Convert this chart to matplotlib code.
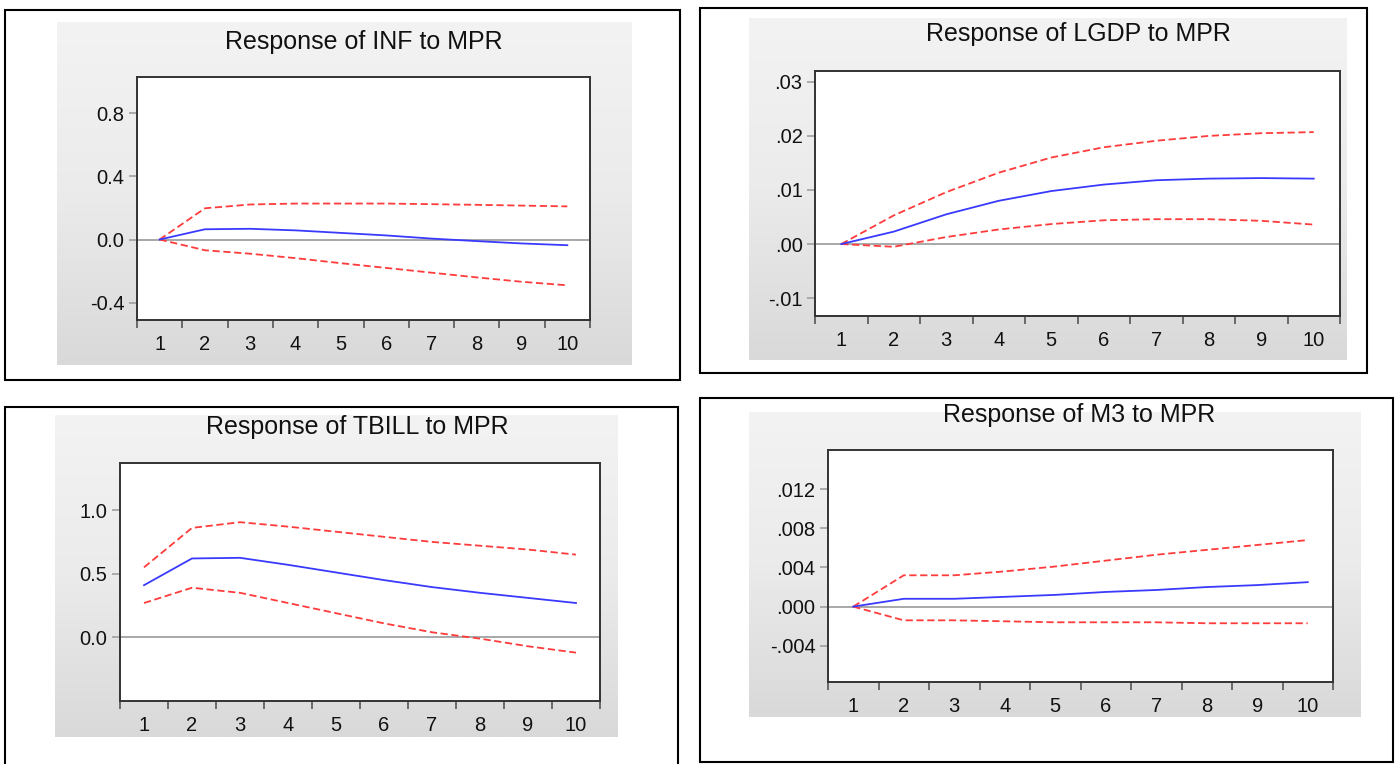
import numpy as np
import matplotlib
matplotlib.use("Agg")
import matplotlib.pyplot as plt
from matplotlib.patches import Rectangle
from matplotlib.colors import LinearSegmentedColormap
from matplotlib.ticker import FixedLocator, FuncFormatter

plt.rcParams['font.family'] = ['Liberation Sans', 'DejaVu Sans']

# impulse responses to an MPR shock, periods 1..10
periods = list(range(1, 11))

inf_resp = [0.0, 0.065, 0.068, 0.058, 0.042, 0.026, 0.006, -0.01, -0.025, -0.036]
inf_upper = [0.0, 0.198, 0.222, 0.228, 0.228, 0.228, 0.224, 0.22, 0.215, 0.21]
inf_lower = [0.0, -0.068, -0.09, -0.118, -0.15, -0.18, -0.21, -0.24, -0.268, -0.29]

lgdp_resp = [0.0, 0.0023, 0.0055, 0.0080, 0.0098, 0.0110, 0.0118, 0.0121, 0.0122, 0.0121]
lgdp_upper = [0.0, 0.0053, 0.0096, 0.0132, 0.0160, 0.0179, 0.0191, 0.0200, 0.0205, 0.0207]
lgdp_lower = [0.0, -0.0005, 0.0013, 0.0027, 0.0037, 0.0044, 0.0046, 0.0046, 0.0043, 0.0036]

tbill_resp = [0.41, 0.62, 0.625, 0.57, 0.51, 0.45, 0.395, 0.35, 0.31, 0.27]
tbill_upper = [0.55, 0.86, 0.905, 0.87, 0.83, 0.79, 0.75, 0.72, 0.69, 0.65]
tbill_lower = [0.27, 0.39, 0.35, 0.27, 0.19, 0.11, 0.04, -0.01, -0.07, -0.12]

m3_resp = [0.0, 0.0008, 0.0008, 0.0010, 0.0012, 0.0015, 0.0017, 0.0020, 0.0022, 0.0025]
m3_upper = [0.0, 0.0032, 0.0032, 0.0036, 0.0041, 0.0047, 0.0053, 0.0058, 0.0063, 0.0068]
m3_lower = [0.0, -0.0014, -0.0014, -0.0015, -0.0016, -0.0016, -0.0016, -0.0017, -0.0017, -0.0017]

titles = ['Response of INF to MPR', 'Response of LGDP to MPR',
          'Response of TBILL to MPR', 'Response of M3 to MPR']

W, H = 1400, 764
fig = plt.figure(figsize=(14, 7.64), dpi=100)


def box(x0, y0, x1, y1):
    # pixel box (top-left origin) -> figure fraction rect
    return [x0 / W, 1 - y1 / H, (x1 - x0) / W, (y1 - y0) / H]


def strip_zero(nd):
    def f(v, pos):
        s = f"{v:.{nd}f}"
        return s.replace('0.', '.', 1)
    return FuncFormatter(f)


panels = [
    # border, gray area, axes, title (x, y), data, ylim, yticks, formatter
    dict(border=(5, 10, 680, 380), bg=(57, 22, 632, 365), ax=(137, 77, 590, 320), title=(364, 42),
         data=(inf_resp, inf_upper, inf_lower), ylim=(-0.51, 1.03), yticks=[-0.4, 0.0, 0.4, 0.8],
         fmt=FuncFormatter(lambda v, p: f"{v:.1f}")),
    dict(border=(700, 8, 1367, 373), bg=(749, 18, 1347, 360), ax=(815, 71, 1340, 316), title=(1078, 34),
         data=(lgdp_resp, lgdp_upper, lgdp_lower), ylim=(-0.0133, 0.032), yticks=[-0.01, 0.0, 0.01, 0.02, 0.03],
         fmt=strip_zero(2)),
    dict(border=(5, 407, 678, 790), bg=(55, 415, 618, 737), ax=(120, 463, 600, 701), title=(357, 427),
         data=(tbill_resp, tbill_upper, tbill_lower), ylim=(-0.5, 1.37), yticks=[0.0, 0.5, 1.0],
         fmt=FuncFormatter(lambda v, p: f"{v:.1f}")),
    dict(border=(700, 398, 1393, 762), bg=(749, 412, 1361, 717), ax=(828, 450, 1333, 682), title=(1079, 415),
         data=(m3_resp, m3_upper, m3_lower), ylim=(-0.0077, 0.016), yticks=[-0.004, 0.0, 0.004, 0.008, 0.012],
         fmt=strip_zero(3)),
]

grad = np.linspace(0, 1, 256).reshape(-1, 1)
gray_cmap = LinearSegmentedColormap.from_list('bg', ['#f3f3f3', '#ebebeb', '#d9d9d9'])

for i, p in enumerate(panels):
    x0, y0, x1, y1 = p['border']
    fig.patches.append(Rectangle((x0 / W, 1 - y1 / H), (x1 - x0) / W, (y1 - y0) / H,
                                 transform=fig.transFigure, fill=False, edgecolor='black',
                                 linewidth=1.5, zorder=0))

    # gray gradient background behind the plot
    bg = fig.add_axes(box(*p['bg']), zorder=0)
    bg.imshow(grad, aspect='auto', cmap=gray_cmap, extent=[0, 1, 0, 1], origin='upper')
    bg.set_axis_off()

    tx, ty = p['title']
    fig.text(tx / W, 1 - ty / H, titles[i], ha='center', va='center', fontsize=18, color='#111111')

    ax = fig.add_axes(box(*p['ax']), zorder=1)
    ax.set_facecolor('white')
    resp, upper, lower = p['data']
    ax.axhline(0, color='#9a9a9a', linewidth=1.2, zorder=1)
    ax.plot(periods, upper, color='#ff3b3b', linestyle=(0, (4, 2)), linewidth=1.3, zorder=2)
    ax.plot(periods, lower, color='#ff3b3b', linestyle=(0, (4, 2)), linewidth=1.3, zorder=2)
    ax.plot(periods, resp, color='#3a3aff', linewidth=1.3, zorder=3)

    ax.set_xlim(0.5, 10.5)
    ax.set_ylim(*p['ylim'])
    ax.set_xticks(periods)
    ax.xaxis.set_minor_locator(FixedLocator(np.arange(0.5, 11, 1)))
    ax.tick_params(axis='x', which='major', length=0, pad=11, labelsize=14.5, labelcolor='#111111')
    ax.tick_params(axis='x', which='minor', length=6, width=1.2, color='#555555', direction='out')
    ax.set_yticks(p['yticks'])
    ax.yaxis.set_major_formatter(p['fmt'])
    ax.tick_params(axis='y', length=6, width=1.1, color='#999999', pad=3, labelsize=14.5,
                   labelcolor='#111111')
    for s in ax.spines.values():
        s.set_color('#333333')
        s.set_linewidth(1.4)

fig.savefig('out.png', dpi=100)
